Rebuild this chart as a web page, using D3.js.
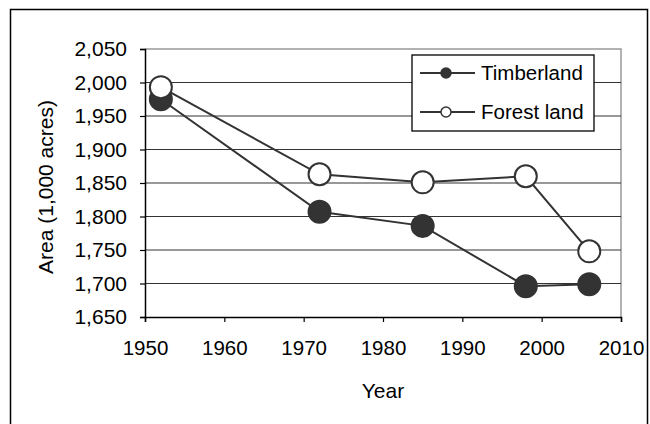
<!DOCTYPE html>
<html>
<head>
<meta charset="utf-8">
<script src="https://cdn.jsdelivr.net/npm/d3@7"></script>
<style>
  body { margin: 0; background: #fff; }
  text { font-family: Arial, "Liberation Sans", sans-serif; fill: #000; }
</style>
</head>
<body>
<svg width="650" height="424"></svg>
<script>
var years = [1952, 1972, 1985, 1998, 2006];
var timberland = [1975, 1807, 1786, 1696, 1699];
var forestLand = [1993, 1863, 1851, 1860, 1748];
var yTicks = [1650, 1700, 1750, 1800, 1850, 1900, 1950, 2000, 2050];
var xTicks = [1950, 1960, 1970, 1980, 1990, 2000, 2010];

var svg = d3.select("svg"),
    width = +svg.attr("width"),
    height = +svg.attr("height");

var plot = {left: 145, right: 621, top: 49, bottom: 317};
var ink = "#333";

var x = d3.scaleLinear().domain([1950, 2010]).range([plot.left, plot.right]);
var y = d3.scaleLinear().domain([1650, 2050]).range([plot.bottom, plot.top]);
var fmt = d3.format(",");

// outer frame
svg.append("path")
    .attr("d", "M10.5," + (height + 2) + "V9.5H647.5V" + (height + 2))
    .attr("fill", "none")
    .attr("stroke", "#000")
    .attr("stroke-width", 1.5);

// plot box, top and right in grey
svg.append("path")
    .attr("d", "M" + plot.left + "," + plot.top + "H" + plot.right + "V" + plot.bottom)
    .attr("fill", "none")
    .attr("stroke", "#999")
    .attr("stroke-width", 1.5);

// gridlines
svg.append("g")
  .selectAll("line")
  .data(yTicks.filter(function(d) { return d > 1650 && d < 2050; }))
  .enter().append("line")
    .attr("x1", plot.left).attr("x2", plot.right)
    .attr("y1", function(d) { return y(d); })
    .attr("y2", function(d) { return y(d); })
    .attr("stroke", ink)
    .attr("stroke-width", 1.2);

var yAxis = svg.append("g")
    .attr("transform", "translate(" + plot.left + ",0)")
    .call(d3.axisLeft(y).tickValues(yTicks).tickFormat(fmt).tickSize(5).tickPadding(13));

var xAxis = svg.append("g")
    .attr("transform", "translate(0," + plot.bottom + ")")
    .call(d3.axisBottom(x).tickValues(xTicks).tickFormat(d3.format("d")).tickSize(5).tickPadding(18));

[yAxis, xAxis].forEach(function(ax, i) {
  ax.select(".domain").attr("stroke", "#000").attr("stroke-width", 1.5);
  ax.selectAll(".tick line").attr("stroke", "#000").attr("stroke-width", 1.2);
  ax.selectAll(".tick text")
      .style("font-family", "Arial, 'Liberation Sans', sans-serif")
      .style("font-size", i === 0 ? "21px" : "20.5px")
      .attr("fill", "#000");
});

// axis titles
svg.append("text")
    .attr("transform", "translate(53," + ((plot.top + plot.bottom) / 2 + 4) + ") rotate(-90)")
    .attr("text-anchor", "middle")
    .style("font-size", "21px")
    .text("Area (1,000 acres)");

svg.append("text")
    .attr("x", x(1980))
    .attr("y", 398)
    .attr("text-anchor", "middle")
    .style("font-size", "21px")
    .text("Year");

var line = d3.line()
    .x(function(d, i) { return x(years[i]); })
    .y(function(d) { return y(d); });

var series = [
  {name: "Timberland", values: timberland, fill: ink},
  {name: "Forest land", values: forestLand, fill: "#fff"}
];

series.forEach(function(s) {
  svg.append("path")
      .datum(s.values)
      .attr("d", line)
      .attr("fill", "none")
      .attr("stroke", ink)
      .attr("stroke-width", 2);
});

series.forEach(function(s) {
  svg.append("g")
    .selectAll("circle")
    .data(s.values)
    .enter().append("circle")
      .attr("cx", function(d, i) { return x(years[i]); })
      .attr("cy", function(d) { return y(d); })
      .attr("r", 11)
      .attr("fill", s.fill)
      .attr("stroke", ink)
      .attr("stroke-width", 2);
});

// legend
var legend = svg.append("g").attr("transform", "translate(412,55)");
legend.append("rect")
    .attr("width", 182).attr("height", 76)
    .attr("fill", "#fff")
    .attr("stroke", "#000")
    .attr("stroke-width", 1.3);

var item = legend.selectAll(".item")
    .data(series)
  .enter().append("g")
    .attr("class", "item")
    .attr("transform", function(d, i) { return "translate(0," + (18 + i * 39) + ")"; });

item.append("line")
    .attr("x1", 8).attr("x2", 63)
    .attr("stroke", ink).attr("stroke-width", 2);
item.append("circle")
    .attr("cx", 34).attr("r", 5)
    .attr("fill", function(d) { return d.fill; })
    .attr("stroke", ink).attr("stroke-width", 1.5);
item.append("text")
    .attr("x", 69).attr("y", 7)
    .style("font-size", "20.5px")
    .text(function(d) { return d.name; });
</script>
</body>
</html>
